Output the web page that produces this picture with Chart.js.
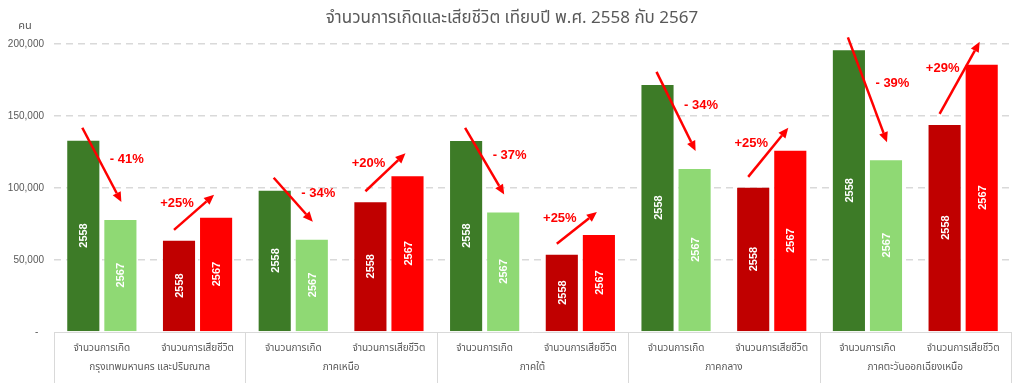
<!DOCTYPE html>
<html>
<head>
<meta charset="utf-8">
<script src="https://cdn.jsdelivr.net/npm/chart.js@4.4.1/dist/chart.umd.min.js"></script>
<style>
  body { margin: 0; background: #fff; }
  #wrap { width: 1024px; height: 383px; position: relative; }
</style>
</head>
<body>
<div id="wrap"><canvas id="chart"></canvas></div>
<script>
const regions = ['กรุงเทพมหานคร และปริมณฑล', 'ภาคเหนือ', 'ภาคใต้', 'ภาคกลาง', 'ภาคตะวันออกเฉียงเหนือ'];
const groups = ['จำนวนการเกิด', 'จำนวนการเสียชีวิต'];
const years = ['2558', '2567'];

const births2558 = [133500, 98800, 133400, 172300, 196300];
const births2567 = [78400, 64800, 83600, 113900, 120000];
const deaths2558 = [64000, 90800, 54300, 100800, 144500];
const deaths2567 = [80000, 108800, 68100, 126500, 186200];

const pctLabels = ['- 41%', '+25%', '- 34%', '+20%', '- 37%', '+25%', '- 34%', '+25%', '- 39%', '+29%'];
const yTicks = [0, 50000, 100000, 150000, 200000];

const THAI = '"Noto Sans Thai", "Leelawadee UI", Tahoma, "Noto Sans", "DejaVu Sans", sans-serif';
const GREY = '#595959';

// 10 categories: เกิด / เสียชีวิต per region
const catLabels = [];
const vals2558 = [];
const vals2567 = [];
const col2558 = [];
const col2567 = [];
regions.forEach((r, i) => {
  catLabels.push(groups[0], groups[1]);
  vals2558.push(births2558[i], deaths2558[i]);
  vals2567.push(births2567[i], deaths2567[i]);
  col2558.push('#3d7b27', '#c00000');
  col2567.push('#8fd974', '#ff0000');
});

const extras = {
  id: 'extras',
  afterDraw(chart) {
    const ctx = chart.ctx;
    const area = chart.chartArea;
    const xs = chart.scales.x;

    // title + unit
    ctx.save();
    ctx.fillStyle = GREY;
    ctx.textAlign = 'center';
    ctx.textBaseline = 'middle';
    ctx.font = '17px ' + THAI;
    ctx.fillText('จำนวนการเกิดและเสียชีวิต เทียบปี พ.ศ. 2558 กับ 2567', 512, 20);
    ctx.font = '11px ' + THAI;
    ctx.fillText('คน', 25, 27);
    ctx.restore();

    // axis line + region separators
    ctx.save();
    ctx.strokeStyle = '#d9d9d9';
    ctx.lineWidth = 1;
    ctx.beginPath();
    ctx.moveTo(area.left, area.bottom + 0.5);
    ctx.lineTo(area.right, area.bottom + 0.5);
    const seps = [area.left];
    for (let k = 1; k < regions.length; k++) {
      seps.push((xs.getPixelForValue(2 * k - 1) + xs.getPixelForValue(2 * k)) / 2);
    }
    seps.push(area.right);
    seps.forEach(x => {
      const px = Math.round(x) + 0.5;
      ctx.moveTo(px, area.bottom);
      ctx.lineTo(px, chart.height);
    });
    ctx.stroke();
    ctx.restore();

    // year labels inside bars
    ctx.save();
    ctx.fillStyle = '#ffffff';
    ctx.font = 'bold 11px "Liberation Sans", Arial, sans-serif';
    ctx.textAlign = 'center';
    ctx.textBaseline = 'middle';
    [0, 1].forEach(d => {
      chart.getDatasetMeta(d).data.forEach(bar => {
        ctx.save();
        ctx.translate(bar.x, (bar.y + bar.base) / 2);
        ctx.rotate(-Math.PI / 2);
        ctx.fillText(years[d], 0, 1);
        ctx.restore();
      });
    });
    ctx.restore();

    // change arrows
    const a = chart.getDatasetMeta(0).data;
    const b = chart.getDatasetMeta(1).data;
    ctx.save();
    ctx.strokeStyle = '#ff0000';
    ctx.fillStyle = '#ff0000';
    ctx.lineWidth = 2.5;
    for (let i = 0; i < a.length; i++) {
      const down = vals2567[i] < vals2558[i];
      const sx = a[i].x + (down ? -1 : -5);
      const sy = a[i].y + (down ? -12 : -10);
      const ex = b[i].x + (down ? 1 : -2);
      const ey = b[i].y + (down ? -17 : -22);
      const ang = Math.atan2(ey - sy, ex - sx);
      const hl = 10, hw = 4.5;
      const bx = ex - hl * Math.cos(ang), by = ey - hl * Math.sin(ang);
      ctx.beginPath();
      ctx.moveTo(sx, sy);
      ctx.lineTo(bx, by);
      ctx.stroke();
      ctx.beginPath();
      ctx.moveTo(ex, ey);
      ctx.lineTo(bx + hw * Math.sin(ang), by - hw * Math.cos(ang));
      ctx.lineTo(bx - hw * Math.sin(ang), by + hw * Math.cos(ang));
      ctx.closePath();
      ctx.fill();

      const mx = (sx + ex) / 2, my = (sy + ey) / 2;
      ctx.font = 'bold 13px "Liberation Sans", Arial, sans-serif';
      ctx.textBaseline = 'middle';
      if (down) {
        ctx.textAlign = 'left';
        ctx.fillText(pctLabels[i], mx + 8, my - 6);
      } else {
        ctx.textAlign = 'center';
        ctx.fillText(pctLabels[i], mx - 17, my - 9);
      }
    }
    ctx.restore();
  }
};

new Chart(document.getElementById('chart'), {
  type: 'bar',
  data: {
    labels: catLabels,
    datasets: [
      { label: years[0], data: vals2558, backgroundColor: col2558, borderColor: 'rgba(255,255,255,0.45)', borderWidth: 1 },
      { label: years[1], data: vals2567, backgroundColor: col2567, borderColor: 'rgba(255,255,255,0.45)', borderWidth: 1 }
    ]
  },
  options: {
    responsive: true,
    maintainAspectRatio: false,
    animation: false,
    categoryPercentage: 0.775,
    barPercentage: 0.92,
    layout: { padding: { top: 44, right: 13, left: 0, bottom: 0 } },
    plugins: {
      legend: { display: false },
      title: { display: false },
      tooltip: { enabled: false }
    },
    scales: {
      x: {
        type: 'category',
        weight: 0,
        grid: { display: false },
        border: { display: false },
        ticks: { color: GREY, font: { size: 10, family: THAI }, maxRotation: 0, autoSkip: false, padding: 3 },
        afterFit: s => { s.height = 21; }
      },
      x2: {
        type: 'category',
        position: 'bottom',
        weight: 1,
        labels: regions,
        grid: { display: false },
        border: { display: false },
        ticks: { color: GREY, font: { size: 10, family: THAI }, maxRotation: 0, autoSkip: false, padding: 1 },
        afterFit: s => { s.height = 30; }
      },
      y: {
        min: 0,
        max: 200000,
        afterBuildTicks: s => { s.ticks = yTicks.map(v => ({ value: v })); },
        grid: {
          color: c => c.tick && c.tick.value === 0 ? 'rgba(0,0,0,0)' : '#d9d9d9',
          lineWidth: 1.5,
          drawTicks: false
        },
        border: { display: false, dash: [7, 5] },
        ticks: {
          color: GREY,
          font: { size: 10, family: '"Liberation Sans", Arial, sans-serif' },
          padding: 10,
          callback: v => v === 0 ? '-  ' : v.toLocaleString('en-US')
        },
        afterFit: s => { s.width = 54; }
      }
    }
  },
  plugins: [extras]
});
</script>
</body>
</html>
